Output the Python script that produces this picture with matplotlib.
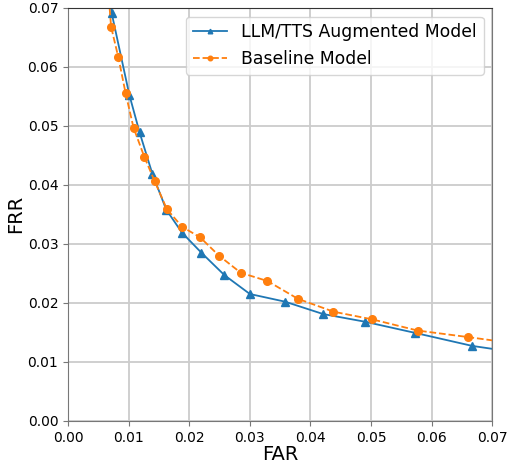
import numpy as np
import matplotlib.pyplot as plt

# FAR / FRR operating points
far_aug = [0.0064, 0.0072, 0.0101, 0.0118, 0.0139, 0.0162, 0.0188, 0.0220, 0.0258,
           0.0300, 0.0358, 0.0421, 0.0490, 0.0573, 0.0667, 0.0760]
frr_aug = [0.0760, 0.0691, 0.0553, 0.0489, 0.0419, 0.0358, 0.0319, 0.0285, 0.0247,
           0.0215, 0.0202, 0.0181, 0.0168, 0.0149, 0.0127, 0.0113]

far_base = [0.0064, 0.0071, 0.0083, 0.0095, 0.0108, 0.0126, 0.0143, 0.0163, 0.0188,
            0.0218, 0.0249, 0.0285, 0.0329, 0.0379, 0.0438, 0.0502, 0.0577, 0.0660, 0.0760]
frr_base = [0.0760, 0.0668, 0.0616, 0.0555, 0.0497, 0.0447, 0.0406, 0.0359, 0.0329,
            0.0311, 0.0280, 0.0251, 0.0237, 0.0207, 0.0185, 0.0172, 0.0153, 0.0142, 0.0128]

ticks = [0.00, 0.01, 0.02, 0.03, 0.04, 0.05, 0.06, 0.07]

fig, ax = plt.subplots(figsize=(5.08, 4.65), dpi=100)
fig.subplots_adjust(left=0.134, right=0.969, top=0.983, bottom=0.095)

ax.plot(far_aug, frr_aug, '-^', color='#1f77b4', markersize=5.5, linewidth=1.3,
        label='LLM/TTS Augmented Model')
ax.plot(far_base, frr_base, '--o', color='#ff7f0e', markersize=5.5, linewidth=1.3,
        label='Baseline Model')

ax.set_xlim(0, 0.07)
ax.set_ylim(0, 0.07)
ax.set_xticks(ticks)
ax.set_yticks(ticks)
ax.tick_params(labelsize=10, color='#777777')
ax.grid(True, color='#cccccc', linewidth=1.3)
for s in ax.spines.values():
    s.set_color('#777777')
ax.spines['top'].set_color('#333333')

ax.set_xlabel('FAR', fontsize=14, labelpad=0)
ax.set_ylabel('FRR', fontsize=14, labelpad=2)
ax.legend(fontsize=12.4, markerscale=0.6, loc='upper right')

plt.savefig('out.png', dpi=100)
